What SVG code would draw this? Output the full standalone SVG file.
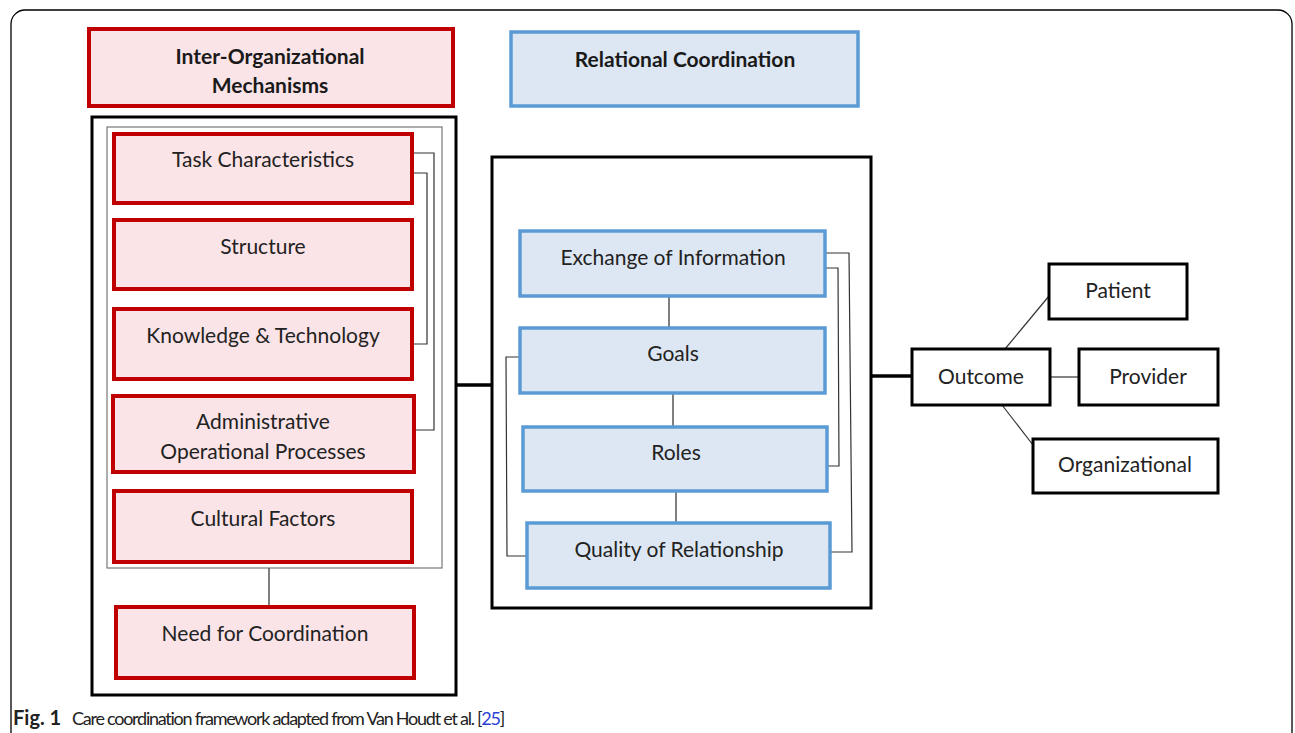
<svg xmlns="http://www.w3.org/2000/svg" width="1295" height="733" viewBox="0 0 1295 733">
<style>
.red{fill:#fbe4e7;stroke:#c00000;stroke-width:4}
.blue{fill:#dde7f3;stroke:#5b9bd5;stroke-width:3.5}
.blk{fill:#fff;stroke:#000;stroke-width:3}
.frame{fill:none;stroke:#000;stroke-width:3}
.lbl{font-family:Lato,"Open Sans",sans-serif;font-size:21px;fill:#222;text-anchor:middle}
.hdr{font-family:Lato,"Open Sans",sans-serif;font-size:21px;font-weight:bold;fill:#1a1a1a;text-anchor:middle}
.thin{fill:none;stroke:#333;stroke-width:1.2}
.gray{fill:none;stroke:#555;stroke-width:1.5}
.thick{fill:none;stroke:#000;stroke-width:3.5}
.cap{font-family:Lato,"Open Sans",sans-serif;font-size:18px;fill:#222}
</style>
<rect x="11" y="10" width="1281" height="760" rx="14" fill="#fff" stroke="#000" stroke-width="1.3"/>
<g id="containers">
<rect class="frame" x="92" y="117" width="364" height="578"/>
<rect x="107" y="127" width="335" height="441" fill="none" stroke="#777" stroke-width="1.2"/>
<rect class="frame" x="492" y="157" width="379" height="451"/>
</g>
<g id="connectors">
<polyline class="thin" points="413,153 434,153 434,430 414,430"/>
<polyline class="thin" points="413,173 427,173 427,344 413,344"/>
<line class="gray" x1="269" y1="568" x2="269" y2="607"/>
<line class="thick" x1="456" y1="385" x2="492" y2="385"/>
<line class="gray" x1="669" y1="296" x2="669" y2="328"/>
<line class="gray" x1="673" y1="393" x2="673" y2="427"/>
<line class="gray" x1="676" y1="491" x2="676" y2="523"/>
<polyline class="thin" points="520,357 506,357 507,556 527,556"/>
<polyline class="thin" points="825,253 849,253 852,552 831,552"/>
<polyline class="thin" points="825,268 838,268 839,466 827,466"/>
<line class="thick" x1="871" y1="376" x2="912" y2="376"/>
<line class="thin" x1="1005" y1="349" x2="1049" y2="296"/>
<line class="thin" x1="1050" y1="377" x2="1079" y2="377"/>
<line class="thin" x1="1002" y1="405" x2="1033" y2="445"/>
</g>
<g id="inter-org-header">
<rect class="red" x="89" y="29" width="364" height="77"/>
<text class="hdr" x="270" y="64">Inter-Organizational</text>
<text class="hdr" x="270" y="93">Mechanisms</text>
</g>
<g id="relational-header">
<rect class="blue" x="511" y="32" width="347" height="74"/>
<text class="hdr" x="685" y="67">Relational Coordination</text>
</g>
<g id="task">
<rect class="red" x="114" y="134" width="298" height="69"/>
<text class="lbl" x="263" y="167">Task Characteristics</text>
</g>
<g id="structure">
<rect class="red" x="114" y="220" width="298" height="69"/>
<text class="lbl" x="263" y="254">Structure</text>
</g>
<g id="knowledge">
<rect class="red" x="114" y="309" width="298" height="70"/>
<text class="lbl" x="263" y="343">Knowledge &amp; Technology</text>
</g>
<g id="admin">
<rect class="red" x="113" y="396" width="301" height="76"/>
<text class="lbl" x="263" y="429">Administrative</text>
<text class="lbl" x="263" y="459">Operational Processes</text>
</g>
<g id="cultural">
<rect class="red" x="114" y="491" width="298" height="71"/>
<text class="lbl" x="263" y="526">Cultural Factors</text>
</g>
<g id="need">
<rect class="red" x="116" y="607" width="298" height="71"/>
<text class="lbl" x="265" y="641">Need for Coordination</text>
</g>
<g id="exchange">
<rect class="blue" x="520" y="231" width="305" height="65"/>
<text class="lbl" x="673" y="265">Exchange of Information</text>
</g>
<g id="goals">
<rect class="blue" x="520" y="328" width="305" height="65"/>
<text class="lbl" x="673" y="361">Goals</text>
</g>
<g id="roles">
<rect class="blue" x="523" y="427" width="304" height="64"/>
<text class="lbl" x="676" y="460">Roles</text>
</g>
<g id="quality">
<rect class="blue" x="527" y="523" width="303" height="65"/>
<text class="lbl" x="679" y="557">Quality of Relationship</text>
</g>
<g id="outcome">
<rect class="blk" x="912" y="349" width="138" height="56"/>
<text class="lbl" x="981" y="384">Outcome</text>
</g>
<g id="patient">
<rect class="blk" x="1049" y="264" width="138" height="55"/>
<text class="lbl" x="1118" y="298">Patient</text>
</g>
<g id="provider">
<rect class="blk" x="1079" y="349" width="139" height="56"/>
<text class="lbl" x="1148" y="384">Provider</text>
</g>
<g id="organizational">
<rect class="blk" x="1033" y="439" width="185" height="54"/>
<text class="lbl" x="1125" y="472">Organizational</text>
</g>
<g id="caption">
<text class="cap" x="13" y="725"><tspan font-weight="bold" font-size="20">Fig. 1</tspan><tspan x="72" letter-spacing="-1.25">Care coordination framework adapted from Van Houdt et al. [<tspan fill="#2b3fd6">25</tspan>]</tspan></text>
</g>
</svg>
